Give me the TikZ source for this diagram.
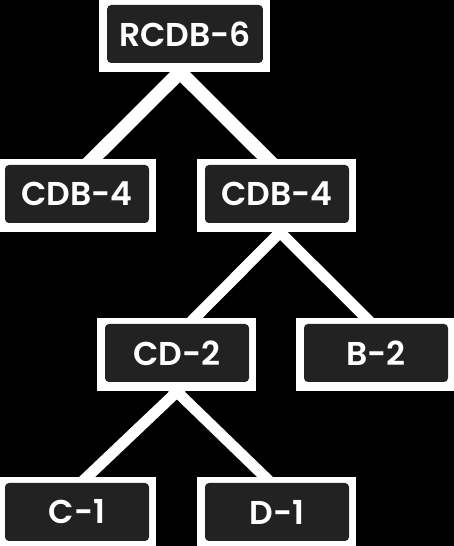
\documentclass[tikz,border=0pt]{standalone}
\usepackage{fontspec}
\setmainfont{Poppins}[BoldFont={Poppins SemiBold}]
\usetikzlibrary{backgrounds}
\definecolor{NodeGray}{HTML}{222222}

\begin{document}
\begin{tikzpicture}[
    x=1pt,y=1pt,
    tbox/.style={rectangle,rounded corners=4pt,fill=NodeGray,text=white,inner xsep=12pt,
      minimum width=144pt,minimum height=58pt,font=\fontsize{33}{36}\selectfont\bfseries},
    edge/.style={white,line width=11pt}
  ]
    \useasboundingbox (0,0) rectangle (454,546);
    \node[tbox] (root) at (185,512) {RCDB-6};
    \node[tbox] (cdbL) at (77,352) {CDB-4};
    \node[tbox] (cdbR) at (277,352) {CDB-4};
    \node[tbox] (cd) at (177,193) {CD-2};
    \node[tbox] (b) at (376,193) {B-2};
    \node[tbox] (c) at (77,34) {C-1};
    \node[tbox] (d) at (277,34) {D-1};
    \begin{scope}[on background layer]
      \fill[black] (0,0) rectangle (454,546);
      % white frames round the boxes
      \foreach \n in {root,cdbL,cdbR,cd,b,c,d}
        \fill[white] ([shift={(-8pt,-9pt)}]\n.south west) rectangle ([shift={(7pt,6pt)}]\n.north east);
      \draw[edge,line width=14pt] ([xshift=4pt]root.south) -- ([xshift=10pt]cdbL.north);
      \draw[edge,line width=14pt] ([xshift=-14pt]root.south) -- ([xshift=-4pt]cdbR.north);
      \draw[edge] ([xshift=12pt]cdbR.south) -- ([xshift=12pt]cd.north);
      \draw[edge] ([xshift=-6pt]cdbR.south) -- ([xshift=-4pt]b.north);
      \draw[edge] ([xshift=10pt]cd.south) -- ([xshift=4pt]c.north);
      \draw[edge] ([xshift=-10pt]cd.south) -- ([xshift=-6pt]d.north);
    \end{scope}
  \end{tikzpicture}
\end{document}
